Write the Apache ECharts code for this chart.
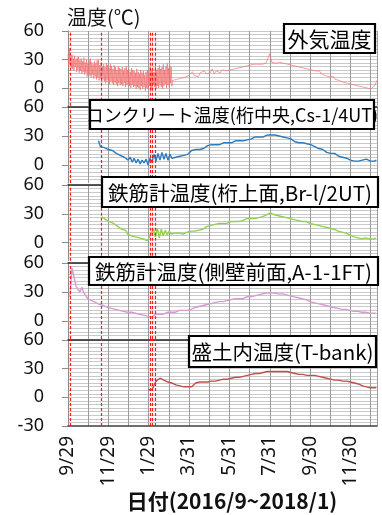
<!DOCTYPE html>
<html><head><meta charset="utf-8">
<script src="https://cdn.jsdelivr.net/npm/echarts@6/dist/echarts.min.js"></script>
<style>html,body{margin:0;padding:0;background:#fff}#c{width:382px;height:515px}</style>
</head><body><div id="c"></div>
<script>
// ---- data (x = days since 2016/9/29) ----
const xMaxDay = 467;
const xTickDays = 30.5;               // monthly grid
const xLabelEvery = 61;               // labelled every other grid line
const yMinorStep = 3.75;              // light horizontal grid
const eventDays = [3, 51, 125, 128, 132];
const yTickLabels = [0, 30, 60];
const yTickLabelsLast = [-30, 0, 30, 60];

// outside air: daily max / min, every 2 days from day 0
const outsideHighs = [36,42,33,35,31,34,30,32,33,29, 31,28,32,27,30,26,29,31,27,25,
  28,26,29,30,24,27,23,25,22,26, 24,21,25,23,20,24,22,19,23,21,
  20,22,18,21,23,19,20,17,21,19, 18,16,20,17,15,19,16,18,14,17,
  19,16,22,18,20,17,23,19,21,24, 20,22,25,19,23,26,21,24,22];
const outsideLows = [22,25,21,20,18,22,17,19,16,18, 15,17,14,16,12,15,13,11,14,10,
  12,9,11,8,10,6,9,7,5,8, 6,4,7,5,3,6,4,2,5,3,
  4,2,5,1,3,4,2,0,3,1, 2,-1,1,0,-2,2,-1,1,-3,0,
  -1,2,0,-2,3,1,-1,2,0,3, 1,-1,2,4,0,3,1,5,2];
// outside air afterwards: every 3 days from day 158
const outsideLaterStart = 158;
const outsideLater = [8,6,9,7,10,8,11,9,13,11, 17,13,15,12,16,14,18,15,17,16,
  20,15,18,17,16,19,17,18,16,19, 18,20,18,21,20,22,21,23,22,24,
  23,25,24,25,26,25,27,26,28,36, 27,29,26,28,27,29,26,27,25,26,
  24,25,23,24,22,23,21,22,20,21, 19,20,18,17,18,15,16,13,14,12,
  10,12,9,10,8,9,6,8,5,7, 4,6,3,5,2,4,1,3,0,2, -1,1,3,8];

// concrete (girder centre), every 3 days from day 46
const concreteStart = 46;
const concrete = [25,19,18,18,17,16,15,15,14,12, 12,10,10,8,9,5,8,3,7,2,
  6,1,5,2,6,0,7,3,11,4, 12,5,13,6,12,5,11,7,9,8,
  10,9,11,10,12,11,13,15,14,16, 17,16,18,17,19,20,19,21,20,21,
  22,21,22,23,22,23,24,23,24,25, 24,25,26,25,27,26,28,27,28,29,
  28,29,30,29,30,31,32,31,30,31, 29,30,28,29,27,28,26,27,25,24,
  25,23,22,23,21,22,20,21,20,19, 18,17,15,16,14,13,14,12,11,12,
  10,9,10,8,9,7,6,5,6,4, 3,4,3,5,4,6,5,4,5,4, 5];

// rebar gauge (girder top), every 3 days from day 51
const rebarTopStart = 51;
const rebarTop = [27,25,24,23,22,21,20,18,17,15, 14,12,13,9,11,7,9,6,7,5,
  6,4,3,2,6,8,14,6,15,5, 14,7,13,8,12,9,11,10,9,10,
  11,9,10,11,10,12,13,12,14,13, 15,14,16,17,16,18,17,19,18,20,
  19,20,21,20,21,22,21,22,23,22, 24,23,24,25,24,25,26,25,27,26,
  28,27,29,29,30,31,30,29,29,28, 28,27,27,26,26,25,25,24,24,23,
  23,22,22,22,21,20,20,19,19,18, 18,17,16,16,15,15,14,14,13,12,
  12,11,10,10,9,8,7,6,6,5, 5,4,4,5,4,4,4,4,5];

// rebar gauge (side wall front), every 3 days from day 3
const rebarWallStart = 3;
const rebarWall = [25,55,46,36,33,30,35,29,26,23, 22,21,20,19,18,17,17,16,15,14,
  14,13,13,12,12,11,11,10,10,9, 10,9,9,8,8,7,7,6,5,5,
  4,4,6,7,6,7,8,7,8,9, 8,9,10,9,10,11,10,11,12,11,
  13,12,14,14,15,15,16,16,17,17, 18,18,18,19,19,20,20,20,21,21,
  21,22,22,23,22,23,24,23,24,25, 24,25,26,26,27,27,28,28,28,29,
  29,29,30,29,29,28,28,28,27,27, 26,26,25,25,24,24,23,23,22,22,
  21,20,20,19,19,18,17,17,16,16, 15,15,14,14,13,13,13,12,12,12,
  11,11,11,10,10,10,9,9,9,9, 8,8,8,8,8];

// embankment (T-bank), every 3 days from day 121
const bankStart = 121;
const bank = [8,9,8,10,17,19,20,19,18,17, 16,15,15,14,13,13,12,12,11,11,
  11,11,11,12,15,17,16,16,16,15, 16,16,17,17,17,18,18,18,19,19,
  19,20,20,20,21,21,21,22,22,22, 23,23,24,24,25,25,25,26,26,26,
  27,27,27,27,27,27,27,27,27,27, 27,27,26,26,25,25,24,24,24,23,
  23,23,23,22,23,22,22,22,21,20, 20,19,19,19,18,18,18,17,17,17,
  17,16,16,16,15,15,14,13,12,11, 11,10,10,10,10,10];

const panelTitles = ['外気温度', 'コンクリート温度(桁中央,Cs-1/4UT)', '鉄筋計温度(桁上面,Br-l/2UT)',
  '鉄筋計温度(側壁前面,A-1-1FT)', '盛土内温度(T-bank)'];
const panelColors = ['#f26d6d', '#2b7bbd', '#92d050', '#d89ad2', '#c0504d'];

// ---- build ----
const series1 = [];
outsideHighs.forEach((h, i) => { series1.push([i * 2, h]); series1.push([i * 2 + 1, outsideLows[i]]); });
outsideLater.forEach((v, i) => series1.push([outsideLaterStart + i * 3, v]));
const toSeries = (start, arr) => arr.map((v, i) => [start + i * 3, v]);
const seriesData = [series1, toSeries(concreteStart, concrete), toSeries(rebarTopStart, rebarTop),
  toSeries(rebarWallStart, rebarWall), toSeries(bankStart, bank)];

// layout
const panels = [
  {top: 31,  height: 74.8, min: -18.75},
  {top: 107, height: 76.1, min: -18.75},
  {top: 185, height: 75.7, min: -18.75},
  {top: 263, height: 76.1, min: -18.75},
  {top: 340, height: 86,   min: -30}
];
const boxes = [
  {x: 284, y: 24,  w: 91,  h: 29, fs: 21},
  {x: 90,  y: 100, w: 284, h: 29, fs: 18},
  {x: 102, y: 177, w: 276, h: 30, fs: 20.5},
  {x: 89,  y: 257, w: 289, h: 28, fs: 20.5},
  {x: 189, y: 336, w: 187, h: 31, fs: 20.5}
];

function dayLabel(v) {
  const k = v / xLabelEvery;
  if (Math.abs(k - Math.round(k)) > 1e-6) return '';
  const d = new Date(2016, 8, 29 + Math.round(v));
  return (d.getMonth() + 1) + '/' + d.getDate();
}

// grid line positions from the axis steps
const xGridLines = [];
for (let v = 0; v <= xMaxDay + 1e-6; v += xTickDays) xGridLines.push(v);
xGridLines.push(xMaxDay);

const grid = [], xAxis = [], yAxis = [], series = [];
panels.forEach((p, i) => {
  const last = i === panels.length - 1;
  grid.push({left: 68, right: 5, top: p.top, height: p.height});
  xAxis.push({
    type: 'value', gridIndex: i, min: 0, max: xMaxDay, interval: xTickDays,
    axisLine: {show: last, onZero: false, lineStyle: {color: '#404040', width: 1.5}},
    axisTick: {show: false},
    axisLabel: {show: last, rotate: 90, margin: 10, fontSize: 19, color: '#111',
      fontFamily: 'Noto Sans', formatter: dayLabel, hideOverlap: false},
    splitLine: {show: false}
  });
  yAxis.push({
    type: 'value', gridIndex: i, min: p.min, max: 60, interval: yMinorStep,
    axisLine: {show: true, onZero: false, lineStyle: {color: '#8c8c8c'}},
    axisTick: {show: true, length: 6, customValues: last ? yTickLabelsLast : yTickLabels,
      lineStyle: {color: '#8c8c8c'}},
    axisLabel: {customValues: last ? yTickLabelsLast : yTickLabels, margin: 24, fontSize: 18,
      color: '#111', fontFamily: 'Noto Sans',
      formatter: v => (Math.abs(v % 30) < 1e-6 ? String(v) : '')},
    splitLine: {show: false}
  });
  // light horizontal + grey vertical grid
  const yGridLines = [];
  for (let v = p.min + yMinorStep; v <= 60 + 1e-6; v += yMinorStep) yGridLines.push(v);
  const gridItems = yGridLines.map(v => ({yAxis: v, lineStyle: {color: '#c9c9c9', width: 1, type: 'solid'}}))
    .concat(xGridLines.map(v => ({xAxis: v, lineStyle: {color: '#9c9c9c', width: 1, type: 'solid'}})));
  series.push({
    type: 'line', xAxisIndex: i, yAxisIndex: i, data: [], symbol: 'none', z: -1, silent: true,
    markLine: {z: -1, silent: true, symbol: ['none', 'none'], label: {show: false}, animation: false,
      emphasis: {disabled: true}, data: gridItems}
  });
  series.push({
    type: 'line', xAxisIndex: i, yAxisIndex: i, data: seriesData[i], showSymbol: false,
    symbol: 'none', animation: false,
    lineStyle: {color: panelColors[i], width: i === 0 ? 0.8 : 1.4, opacity: i === 0 ? 0.85 : 1},
    markLine: {
      silent: true, symbol: ['none', 'none'], label: {show: false}, animation: false,
      lineStyle: {color: '#ff1a1a', type: [3, 2], width: 1.2},
      data: eventDays.map(d => ({xAxis: d}))
    }
  });
});
// dark top edge for panels 2-5
for (let i = 1; i < panels.length; i++) {
  xAxis.push({type: 'value', gridIndex: i, position: 'top', min: 0, max: xMaxDay,
    axisLine: {show: true, onZero: false, lineStyle: {color: '#202020', width: 1.5}},
    axisTick: {show: false}, axisLabel: {show: false}, splitLine: {show: false}});
}

const graphic = [];
graphic.push({type: 'text', x: 67, y: 17, z: 100,
  style: {text: '温度(℃)', font: '20px "Noto Sans CJK JP"', fill: '#111',
    align: 'left', verticalAlign: 'middle', textAlign: 'left', textVerticalAlign: 'middle'}});
boxes.forEach((b, i) => {
  graphic.push({type: 'rect', z: 100, shape: {x: b.x, y: b.y, width: b.w, height: b.h},
    style: {fill: '#fff', stroke: null}});
  graphic.push({type: 'text', z: 101, x: b.x + b.w / 2, y: b.y + b.h / 2 + 1,
    style: {text: panelTitles[i], font: b.fs + 'px "Noto Sans CJK JP"', fill: '#000',
      align: 'center', verticalAlign: 'middle', textAlign: 'center', textVerticalAlign: 'middle'}});
  graphic.push({type: 'rect', z: 102, shape: {x: b.x, y: b.y, width: b.w, height: b.h},
    style: {fill: 'none', stroke: '#000', lineWidth: 2.2}});
});
graphic.push({type: 'text', x: 232, y: 501, z: 100,
  style: {text: '日付(2016/9~2018/1)', font: 'bold 21px "Noto Sans CJK JP"', fill: '#111',
    align: 'center', verticalAlign: 'middle', textAlign: 'center', textVerticalAlign: 'middle'}});

const chart = echarts.init(document.getElementById('c'), null, {renderer: 'canvas'});
chart.setOption({animation: false, backgroundColor: '#fff', grid, xAxis, yAxis, series, graphic});
</script></body></html>
